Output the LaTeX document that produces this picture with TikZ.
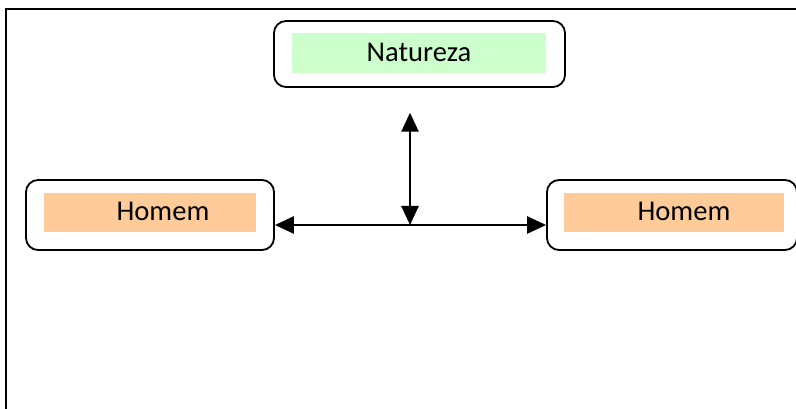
\documentclass[tikz,border=0pt]{standalone}
\usepackage{fontspec}
\setmainfont{Carlito}
\usepackage{xcolor}
\usetikzlibrary{arrows.meta,positioning}

\definecolor{peach}{RGB}{255,204,153}
\definecolor{mint}{RGB}{204,255,204}

\begin{document}
\begin{tikzpicture}[
  x=1pt,y=-1pt,
  frame/.style={line width=2pt},
  box/.style={draw,line width=1.8pt,rounded corners=12pt,inner sep=0pt},
  band/.style={inner sep=0pt,minimum height=39pt},
  label/.style={font=\fontsize{28.6}{30}\selectfont,anchor=base,inner sep=0pt},
  link/.style={{Triangle[length=19pt,width=17pt]}-{Triangle[length=19pt,width=17pt]},line width=2.6pt}
]
  \useasboundingbox (0,0) rectangle (796,409);
  \clip (0,0) rectangle (796,409);

  % Frame
  \draw[frame] (6,415) -- (6,9) -- (805,9);

  % Boxes
  \node[box,minimum width=291pt,minimum height=66pt] (natureza) at (419.5,54) {};
  \node[box,minimum width=248pt,minimum height=70pt] (homemL) at (150,215) {};
  \node[box,minimum width=250pt,minimum height=70pt] (homemR) at (672,215) {};

  % Coloured bands
  \node[band,fill=mint,minimum width=254pt,minimum height=40pt] (bandN) at (419,53) {};
  \node[band,fill=peach,minimum width=212pt] (bandL) at (150,212.5) {};
  \node[band,fill=peach,minimum width=220pt] (bandR) at (674,212.5) {};

  % Texts
  \node[label] (txtN) at (419,62) {Natureza};
  \node[label] (txtL) at (163,221) {Homem};
  \node[label] (txtR) at (684,221) {Homem};

  % Arrows
  \coordinate (junction) at (410,225);
  \coordinate (top) at (410,112.7);
  \draw[link] (homemL.east |- junction) -- (homemR.west |- junction);
  \draw[link] (top) -- (junction);
\end{tikzpicture}
\end{document}
